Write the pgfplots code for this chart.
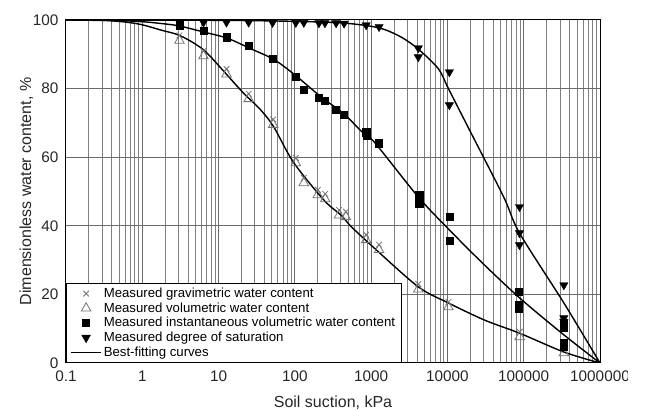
\documentclass[border=0pt]{standalone}
\usepackage{pgfplots}
\pgfplotsset{compat=1.18}
\usepackage{fontspec}
\setmainfont{Liberation Sans}
\begin{document}
\begin{tikzpicture}
\begin{axis}[name=ax,
  scale only axis, width=534pt, height=343pt,
  xmode=log, xmin=0.1, xmax=1e6, ymin=0, ymax=100,
  xtick={0.1,1,10,100,1000,10000,100000,1000000},
  xticklabels={0.1,1,10,100,1000,10000,100000,1000000},
  minor xtick={0.2,0.3,0.4,0.5,0.6,0.7,0.8,0.9,2,3,4,5,6,7,8,9,20,30,40,50,60,70,80,90,200,300,400,500,600,700,800,900,2000,3000,4000,5000,6000,7000,8000,9000,20000,30000,40000,50000,60000,70000,80000,90000,200000,300000,400000,500000,600000,700000,800000,900000},
  ytick={0,20,40,60,80,100},
  yticklabels={0,20,40,60,80,100},
  xmajorgrids, xminorgrids, ymajorgrids,
  major grid style={draw=black!58, line width=1pt},
  minor grid style={draw=black!50, line width=1pt},
  tick style={draw=none},
  axis line style={line width=1pt},
  ticklabel style={font=\fontsize{15.3}{18}\selectfont, text=black!85},
  xticklabel style={yshift=-4pt},
  yticklabel style={xshift=-4pt},
  label style={font=\fontsize{16}{19}\selectfont, text=black!85},
  xlabel={Soil suction, kPa},
  ylabel={Dimensionless water content, \%},
  xlabel style={at={(axis description cs:0.5,0)}, anchor=north, yshift=-29pt},
  ylabel style={at={(axis description cs:-0.0655,0.5)}, anchor=base, rotate=0},
  legend image code/.code={\draw[mark repeat=2,mark phase=2,#1] plot coordinates {(0pt,0pt) (15pt,0pt) (30pt,0pt)};},
  legend style={at={(0,0)}, anchor=south west, draw=black, line width=0.8pt, fill=white,
    font=\fontsize{13.2}{16}\selectfont, cells={anchor=west}, inner xsep=4pt, inner ysep=3pt,
    row sep=0pt, nodes={inner ysep=1.8pt}},
]
% gravimetric
\addplot[only marks, mark=x, mark size=4pt, draw=black!55, line width=0.8pt] coordinates {
(3.07,95.5) (6.35,91.0) (12.7,85.7) (24.8,78.5) (52,71.0) (103,59.8) (131,54.0) (200,50.5) (250,49.3) (380,44.6) (467,44.1) (860,37.4) (1270,34.5) (4150,23.0) (10300,17.8) (88500,9.1) (336000,4.4)};
\addlegendentry{Measured gravimetric water content}
% volumetric
\addplot[only marks, mark=triangle, mark size=5.5pt, draw=black!55, line width=0.8pt] coordinates {
(3.07,94.0) (6.35,89.5) (12.7,84.2) (24.8,77.0) (52,69.5) (103,58.3) (131,52.5) (200,49.0) (250,47.8) (380,43.1) (467,42.6) (860,35.9) (1270,33.0) (4150,21.5) (10300,16.3) (88500,7.6) (336000,2.9)};
\addlegendentry{Measured volumetric water content}
% instantaneous
\addplot[only marks, mark=square*, mark size=3.6pt, draw=black, fill=black] coordinates {
(3.07,98.5) (6.35,96.8) (12.7,95.0) (24.8,92.4) (51,88.6) (103,83.4) (131,79.6) (207,77.3) (248,76.4) (347,73.8) (442,72.3) (860,67.3) (880,66.3) (1270,64.1) (4270,49.0) (4270,46.6) (10600,42.6) (10600,35.6) (86000,20.7) (86000,16.9) (86000,16.0) (336000,11.7) (336000,10.2) (336000,5.8) (336000,4.7)};
\addlegendentry{Measured instantaneous volumetric water content}
% saturation
\addplot[only marks, mark=triangle*, mark size=4.8pt, mark options={rotate=180}, draw=black, fill=black] coordinates {
(3.07,99.3) (6.35,99.3) (12.7,99.3) (24.8,99.3) (51,99.2) (103,99.2) (131,99.2) (207,99.1) (248,99.1) (347,99.1) (442,99.0) (860,98.5) (1270,98.0) (4150,91.8) (4150,89.2) (10600,84.8) (10600,75.2) (88000,45.5) (88000,37.9) (88000,34.4) (336000,22.7) (336000,13.1) (336000,12.0)};
\addlegendentry{Measured degree of saturation}
% curves
\addplot[smooth, black, line width=1.4pt] coordinates {
(0.1,100) (0.3,99.9) (0.6,99.4) (1,98.6) (1.73,97.1) (3.16,95.4) (6.35,91.3) (12.3,84.5) (21.2,78.7) (35.6,73.8) (53,68.8) (96,58.5) (240,47.5) (403,43.1) (546,39.8) (1100,33.5) (4150,22.2) (10300,17.5) (30700,12.5) (88000,8.7) (336000,3.2) (1000000,0)};
\addlegendentry{Best-fitting curves}
\addplot[smooth, black, line width=1.4pt, forget plot] coordinates {
(0.1,100) (0.5,99.8) (1,99.5) (1.73,99.0) (3,98.3) (6.35,96.5) (13,94.7) (26.5,91.6) (53,88.5) (100,84.0) (220,77.6) (442,72.6) (740,67.6) (1100,64.4) (4150,48.4) (10600,38.8) (28000,29.4) (88000,19.0) (336000,8.2) (1000000,0)};
\addplot[smooth, black, line width=1.4pt, forget plot] coordinates {
(0.1,100) (10,99.9) (100,99.6) (442,99.1) (1270,97.7) (2480,95.0) (4150,91.5) (7600,85.8) (10300,80.0) (18900,68.5) (54600,48.4) (88000,37.9) (336000,17.5) (1000000,0)};
\end{axis}
\fill[white] ([shift={(28pt,-2pt)}]ax.south east) rectangle ([shift={(50pt,-30pt)}]ax.south east);
\pgfresetboundingbox
\path ([shift={(-66pt,-48pt)}]ax.south west) rectangle ([shift={(45pt,20pt)}]ax.north east);
\end{tikzpicture}
\end{document}
